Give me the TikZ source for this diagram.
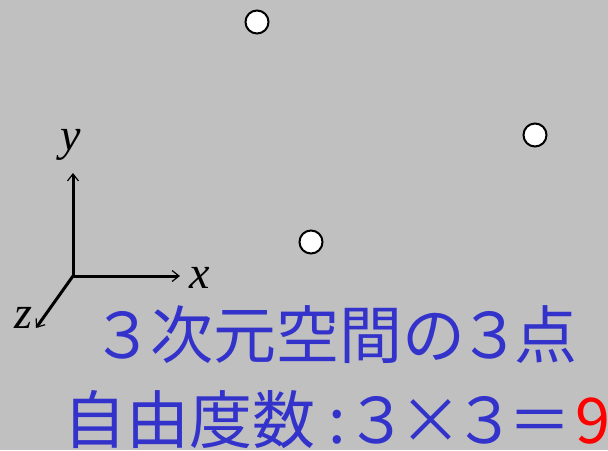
\documentclass[tikz,border=0pt]{standalone}
\usepackage{fontspec}
\setmainfont{Liberation Serif}
\newfontfamily\jpfont{Noto Sans CJK JP}
\usetikzlibrary{arrows.meta}
\definecolor{bggray}{RGB}{192,192,192}
\definecolor{txtblue}{RGB}{51,51,204}
\tikzset{
  ptnode/.style={circle,draw=black,fill=white,line width=2pt,minimum size=23pt,inner sep=0pt},
  axis/.style={line width=3pt,-{Straight Barb[length=7pt,width=11pt,line width=1.2pt]}},
  axlabel/.style={inner sep=0pt,anchor=base,font=\fontsize{46}{50}\selectfont\itshape},
  jptext/.style={inner sep=0pt,text depth=0pt,anchor=base west,text=txtblue,font=\jpfont\fontsize{63}{66}\selectfont}
}
\begin{document}
\begin{tikzpicture}[x=1pt,y=-1pt]
\useasboundingbox (0,0) rectangle (608,450);
\fill[bggray] (0,0) rectangle (608,450);
\node[ptnode] (p1) at (257,22) {};
\node[ptnode] (p2) at (535,135) {};
\node[ptnode] (p3) at (311,242) {};
\coordinate (o) at (73,276);
\coordinate (xe) at (180,276);
\coordinate (ye) at (73,173);
\coordinate (ze) at (36,328);
\draw[axis] (o) -- (xe);
\draw[axis] (o) -- (ye);
\draw[axis] (o) -- (ze);
\node[axlabel] (ly) at (71,150) {y};
\node[axlabel] (lx) at (200,288) {x};
\node[axlabel] (lz) at (23,328) {z};
\node[jptext] (t1) at (91,358) {３\kern-4pt 次元空間の\kern-7pt ３\kern-7pt 点};
\node[jptext] (t2) at (63.5,443) {自由度数\kern12.5pt :３\kern-9pt ×\kern-9.5pt ３\kern-8pt ＝\kern4pt {\color{red}9}};
\end{tikzpicture}
\end{document}
